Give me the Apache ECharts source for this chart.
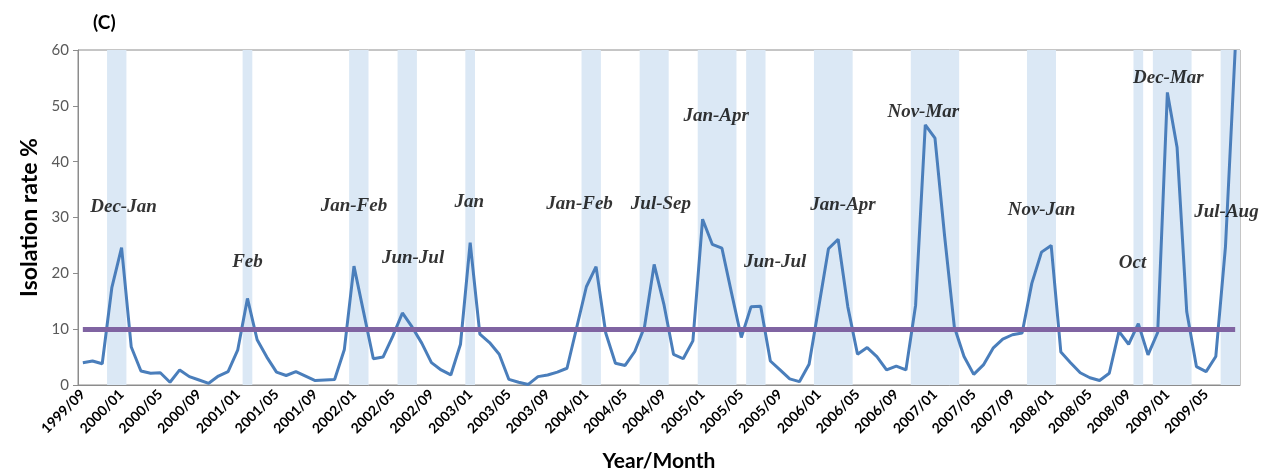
<!DOCTYPE html>
<html>
<head>
	<meta charset="utf-8">
	<title>Isolation rate</title>
	<style>
		html, body { margin: 0; padding: 0; background: #fff; }
		#chart { width: 1267px; height: 474px; }
	</style>
</head>
<body>
	<div id="chart"></div>
	<script src="https://cdn.jsdelivr.net/npm/echarts@6/dist/echarts.min.js"></script>
	<script type="text/javascript">
	// months 1999/09 .. 2009/08
	var startYear = 1999, startMonth = 9, monthCount = 120;
	var months = [];
	for (var k = 0; k < monthCount; k++) {
		var m = startMonth - 1 + k;
		var y = startYear + Math.floor(m / 12);
		var mm = (m % 12) + 1;
		months.push(y + '/' + (mm < 10 ? '0' + mm : mm));
	}

	// isolation rate %
	var rates = [
		4.0, 4.3, 3.8, 17.5, 24.6, 6.8, 2.5, 2.1, 2.2, 0.5,
		2.7, 1.5, 0.9, 0.3, 1.6, 2.4, 6.3, 15.5, 8.1, 5.0,
		2.3, 1.7, 2.4, 1.6, 0.8, 0.9, 1.0, 6.3, 21.3, 13.0,
		4.7, 5.0, 8.7, 12.9, 10.4, 7.5, 4.0, 2.7, 1.8, 7.3,
		25.5, 9.1, 7.6, 5.5, 1.0, 0.5, 0.1, 1.5, 1.8, 2.3,
		3.0, 10.3, 17.6, 21.2, 9.3, 3.9, 3.5, 6.0, 10.4, 21.6,
		14.5, 5.5, 4.7, 7.9, 29.7, 25.2, 24.5, 16.4, 8.5, 14.0,
		14.1, 4.3, 2.7, 1.1, 0.6, 3.7, 14.0, 24.4, 26.1, 14.0,
		5.5, 6.7, 5.1, 2.7, 3.4, 2.7, 14.3, 46.6, 44.2, 26.6,
		10.4, 5.1, 1.9, 3.6, 6.6, 8.2, 9.0, 9.3, 18.2, 23.8,
		25.0, 5.9, 4.0, 2.2, 1.3, 0.8, 2.1, 9.6, 7.3, 11.0,
		5.4, 9.4, 52.4, 42.6, 13.1, 3.3, 2.4, 5.1, 24.8, 60
	];

	var threshold = 10;

	// shaded periods [from, to]
	var bands = [
		['1999/12', '2000/01'], ['2001/02', '2001/02'], ['2002/01', '2002/02'],
		['2002/06', '2002/07'], ['2003/01', '2003/01'], ['2004/01', '2004/02'],
		['2004/07', '2004/09'], ['2005/01', '2005/04'], ['2005/06', '2005/07'],
		['2006/01', '2006/04'], ['2006/11', '2007/03'], ['2007/11', '2008/01'],
		['2008/10', '2008/10'], ['2008/12', '2009/03'], ['2009/07', '2009/08']
	];

	// period labels: text, month position (0..120), rate
	var bandNames = ['Dec-Jan', 'Feb', 'Jan-Feb', 'Jun-Jul', 'Jan', 'Jan-Feb', 'Jul-Sep', 'Jan-Apr',
		'Jun-Jul', 'Jan-Apr', 'Nov-Mar', 'Nov-Jan', 'Oct', 'Dec-Mar', 'Jul-Aug'];
	var bandNameX = [4.7, 17.5, 28.5, 34.6, 40.4, 51.8, 60.2, 65.9, 72.0, 79.0, 87.3, 99.5, 108.9, 112.6, 118.6];
	var bandNameY = [31.9, 22.1, 32.1, 22.7, 32.7, 32.4, 32.4, 48.2, 22.1, 32.2, 48.8, 31.3, 21.9, 55.0, 31.0];

	var yMax = 60;

	// each shaded period spans whole months on the hidden month-position axis
	var bandAreas = bands.map(function(b) {
		return [{ xAxis: months.indexOf(b[0]) }, { xAxis: months.indexOf(b[1]) + 1 }];
	});
	var labelData = bandNames.map(function(t, i) {
		return { name: t, value: [bandNameX[i], bandNameY[i]] };
	});

	var myChart = echarts.init(document.getElementById('chart'));
	var option = {
		animation: false,
		backgroundColor: '#fff',
		title: {
			text: '(C)',
			left: 88,
			top: 8,
			textStyle: { fontFamily: 'Lato', fontWeight: 'bold', fontSize: 19, color: '#000' }
		},
		grid: {
			left: 78,
			right: 27,
			top: 50,
			bottom: 89,
			show: true,
			borderColor: '#8c8c8c',
			borderWidth: 1,
			outerBoundsMode: 'none'
		},
		xAxis: [{
			type: 'category',
			data: months,
			boundaryGap: true,
			name: 'Year/Month',
			nameLocation: 'middle',
			nameGap: 66,
			nameTextStyle: { fontFamily: 'Lato', fontWeight: 'bold', fontSize: 21, color: '#000' },
			axisLine: { lineStyle: { color: '#8c8c8c', width: 1 } },
			axisTick: { interval: 3, length: 5, lineStyle: { color: '#8c8c8c' } },
			axisLabel: {
				interval: 3,
				rotate: 45,
				margin: 7,
				fontFamily: 'Lato',
				fontWeight: 'bold',
				fontSize: 14,
				color: '#000'
			},
			splitLine: { show: false }
		}, {
			type: 'value',
			min: 0,
			max: monthCount,
			show: false
		}],
		yAxis: {
			type: 'value',
			min: 0,
			max: yMax,
			interval: 10,
			name: 'Isolation rate %',
			nameLocation: 'middle',
			nameGap: 36,
			nameTextStyle: { fontFamily: 'Lato', fontWeight: 'bold', fontSize: 23, color: '#000' },
			axisLine: { show: true, lineStyle: { color: '#8c8c8c', width: 1 } },
			axisTick: { show: true, length: 5, lineStyle: { color: '#8c8c8c' } },
			axisLabel: { fontFamily: 'Lato', fontSize: 15, color: '#595959', margin: 9 },
			splitLine: { show: false }
		},
		series: [{
			name: 'season',
			type: 'scatter',
			xAxisIndex: 1,
			data: [],
			silent: true,
			z: 1,
			markArea: {
				silent: true,
				itemStyle: { color: '#dbe8f5' },
				label: { show: false },
				data: bandAreas
			}
		}, {
			name: 'rate',
			type: 'line',
			data: rates,
			showSymbol: false,
			lineStyle: { color: '#4a7ebb', width: 3 },
			itemStyle: { color: '#4a7ebb' },
			z: 3,
			markLine: {
				silent: true,
				symbol: 'none',
				label: { show: false },
				lineStyle: { color: '#8064a2', width: 5, type: 'solid' },
				data: [[{ coord: [months[0], threshold] }, { coord: [months[monthCount - 1], threshold] }]]
			}
		}, {
			name: 'periods',
			type: 'scatter',
			xAxisIndex: 1,
			data: labelData,
			symbolSize: 0,
			silent: true,
			z: 5,
			label: {
				show: true,
				position: 'inside',
				formatter: '{b}',
				fontFamily: 'Liberation Serif',
				fontStyle: 'italic',
				fontWeight: 'bold',
				fontSize: 19,
				color: '#000'
			}
		}]
	};
	myChart.setOption(option);
	</script>
</body>
</html>
